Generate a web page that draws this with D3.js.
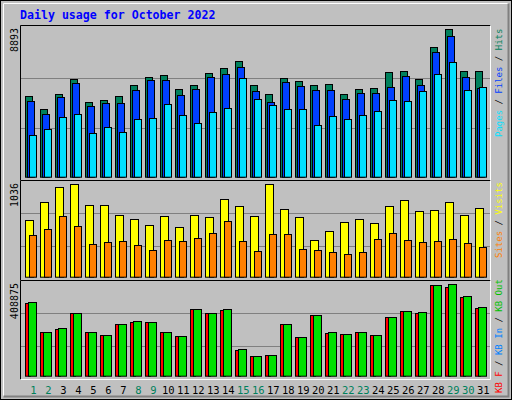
<!DOCTYPE html>
<html><head><meta charset="utf-8">
<script src="https://cdn.jsdelivr.net/npm/d3@7"></script>
<style>body{margin:0;background:#fff}text{font-family:"DejaVu Sans Mono",monospace}</style>
</head><body>
<svg id="c" width="512" height="400"></svg>
<script>
var days = d3.range(1, 32);
var weekend = [1,2,8,9,15,16,22,23,29,30];

var hits  = [4850,4066,4971,5877,4489,4609,4850,5514,5997,6118,5273,5514,6238,6540,6962,5514,4971,5937,5756,5514,5575,4971,5273,5333,6299,6359,5877,7807,8893,6359,6359];
var files = [4549,3765,4790,5635,4247,4428,4428,5213,5816,5816,4911,5273,5997,6178,6600,5152,4489,5695,5454,5213,5213,4670,5032,5032,5394,6057,5514,7505,8470,5997,5333];
var pages = [2498,2860,3584,3765,2618,2980,2679,3463,3523,4368,3704,3222,3885,4127,5937,4670,4308,4066,4066,3101,3644,3463,3704,3946,4609,4549,5152,6178,6902,5213,5394];

var visits = [632,834,1002,1036,800,800,688,643,576,677,554,688,666,868,789,677,1036,756,666,408,509,610,643,599,789,856,733,744,834,688,767];
var sites  = [464,531,677,565,363,386,397,352,296,408,397,430,487,621,397,285,475,475,307,296,274,251,274,419,487,408,386,397,419,374,330];

var kbOut = [328000,194000,212000,279000,194000,181000,230000,243000,239000,194000,176000,297000,279000,297000,118000,87000,91000,230000,172000,270000,194000,185000,194000,181000,261000,288000,284000,404000,408875,355000,306000];
var kbF   = [323500,194000,207500,279000,194000,181000,230000,239000,239000,194000,176000,297000,279000,292500,113500,87000,91000,230000,172000,270000,189500,185000,194000,181000,261000,288000,279500,404000,395000,350500,301500];

var svg = d3.select("#c");
svg.append("rect").attr("x",0.5).attr("y",0.5).attr("width",511).attr("height",399).attr("fill","#c0c0c0").attr("stroke","#000");
svg.append("path").attr("d","M3.5,396.5V3.5H508.5").attr("fill","none").attr("stroke","#fff");
svg.append("path").attr("d","M508.5,3.5V396.5H3.5").attr("fill","none").attr("stroke","#808080").attr("stroke-width",2);

svg.append("text").attr("x",20).attr("y",19).attr("fill","#0000ff").attr("font-weight","bold")
  .attr("font-size","11.6px").text("Daily usage for October 2022");

var x = d3.scaleLinear().domain([1, 32]).range([25.3, 490.3]);

function panel(y0, y1){
  svg.append("path").attr("d","M20.5,"+(y1+0.5)+"V"+(y0+0.5)+"H490.5").attr("fill","none").attr("stroke","#000");
  svg.append("path").attr("d","M490.5,"+(y0+0.5)+"V"+(y1+0.5)+"H20.5").attr("fill","none").attr("stroke","#fff");
}
panel(25, 180);
panel(180, 280);
panel(280, 379);

function gridAt(ys){
  ys.forEach(function(yy){
    svg.append("line").attr("x1",21).attr("x2",490).attr("y1",yy).attr("y2",yy).attr("stroke","#808080");
  });
}

function bars(data, y, color, dx, w){
  svg.append("g").selectAll("rect").data(data).enter().append("rect")
    .attr("x", (d,i) => Math.round(x(i+1)) + dx + 0.5)
    .attr("y", d => Math.round(y(d)) + 0.5)
    .attr("width", w)
    .attr("height", d => y(0) - Math.round(y(d)))
    .attr("fill", color).attr("stroke", "#000");
}

var y1 = d3.scaleLinear().domain([0, 8893]).range([176.7, 29.3]);
gridAt([Math.round(y1(8893/3)) + 0.5, Math.round(y1(8893*2/3)) + 0.5]);
bars(hits, y1, "#00805c", 0, 7);
bars(files, y1, "#0040ff", 2, 7);
bars(pages, y1, "#00e0ff", 4, 7);

var y2 = d3.scaleLinear().domain([0, 1036]).range([276.7, 184.3]);
gridAt([213.5, 246.5]);
bars(visits, y2, "#ffff00", 0, 8);
bars(sites, y2, "#ff8000", 4, 7);

var y3 = d3.scaleLinear().domain([0, 408875]).range([375.7, 284.3]);
gridAt([313.5, 346.5]);
bars(kbF, y3, "#ff0000", 0, 5);
bars(kbOut, y3, "#00e000", 3, 8);

// day labels
svg.append("g").selectAll("text").data(days).enter().append("text")
  .attr("x", d => x(d) + 8).attr("y", 394).attr("text-anchor","middle")
  .attr("font-size","10.5px")
  .attr("fill", d => weekend.indexOf(d) >= 0 ? "#00805c" : "#000")
  .text(d => d);

// left max labels
function vlabel(txt, xx, yy){
  svg.append("text").attr("transform","translate("+xx+","+yy+") rotate(-90)")
    .attr("text-anchor","end").attr("font-size","10px").attr("fill","#000").text(txt);
}
vlabel("8893", 18, 28);
vlabel("1036", 18, 183);
vlabel("408875", 18, 283);

// right legends
function legend(parts, yy){
  var t = svg.append("text").attr("transform","translate(502,"+yy+") rotate(-90)")
    .attr("font-size","9px");
  parts.forEach(function(p){ t.append("tspan").attr("fill", p[1]).text(p[0]); });
}
legend([["Pages","#00e0ff"],[" / ","#000"],["Files","#0040ff"],[" / ","#000"],["Hits","#00805c"]], 137);
legend([["Sites","#ff8000"],[" / ","#000"],["Visits","#ffff00"]], 258);
legend([["KB F","#ff0000"],[" / ","#000"],["KB In","#0080ff"],[" / ","#000"],["KB Out","#00c000"]], 393);
</script>
</body></html>
